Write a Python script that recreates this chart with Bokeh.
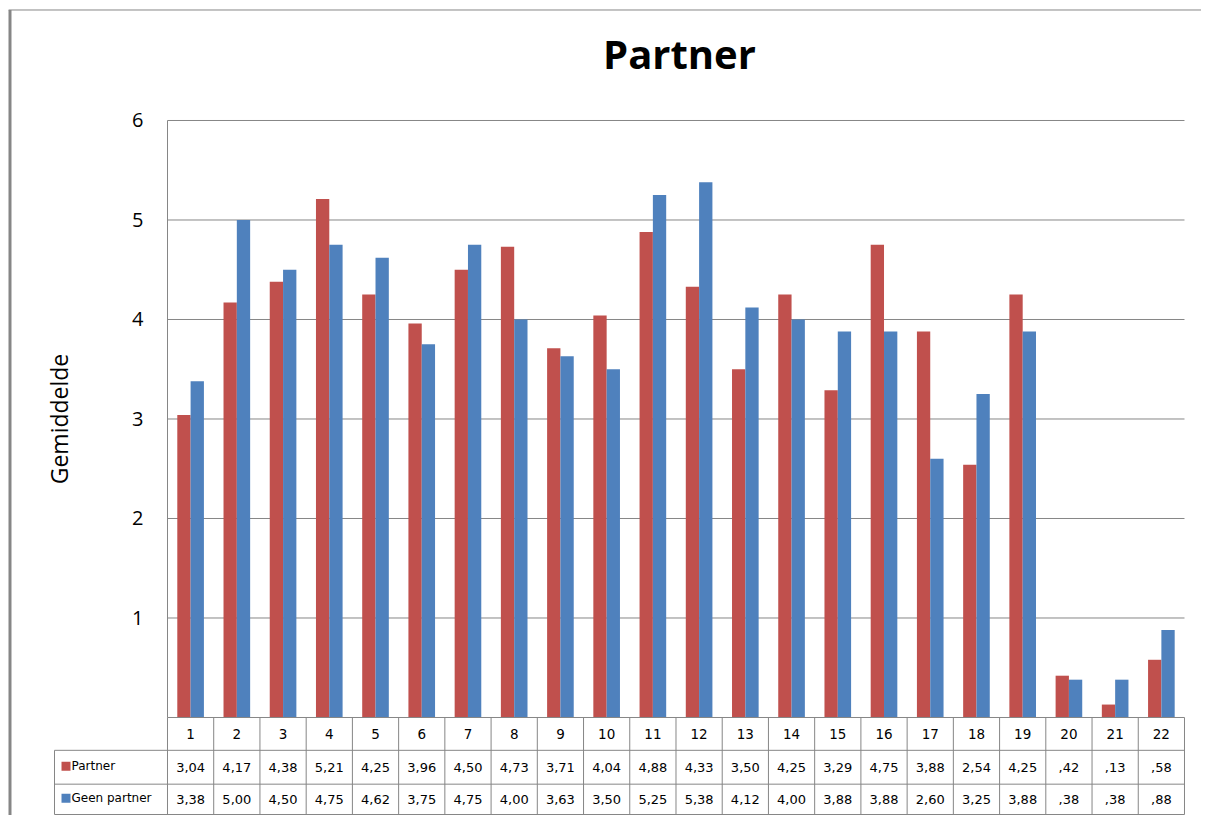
from bokeh.plotting import figure
from bokeh.models import Range1d, FixedTicker, ColumnDataSource, Label
from bokeh.transform import dodge
from bokeh.core.properties import value
from bokeh.embed import file_html
from bokeh.resources import INLINE

# ---- data ----
categories = [str(i) for i in range(1, 23)]
partner = [3.04, 4.17, 4.38, 5.21, 4.25, 3.96, 4.50, 4.73, 3.71, 4.04, 4.88,
           4.33, 3.50, 4.25, 3.29, 4.75, 3.88, 2.54, 4.25, 0.42, 0.13, 0.58]
geen_partner = [3.38, 5.00, 4.50, 4.75, 4.62, 3.75, 4.75, 4.00, 3.63, 3.50, 5.25,
                5.38, 4.12, 4.00, 3.88, 3.88, 2.60, 3.25, 3.88, 0.38, 0.38, 0.88]
series_names = ["Partner", "Geen partner"]
y_ticks = [1, 2, 3, 4, 5, 6]

RED = "#C0504D"
BLUE = "#4F81BD"
GRID = "#868686"


def nl(v):
    s = f"{v:.2f}".replace(".", ",")
    return s[1:] if s.startswith("0") else s


xpos = list(range(1, len(categories) + 1))
src = ColumnDataSource(dict(x=xpos, partner=partner, geen=geen_partner))

# one frame covering the whole canvas; plot area is x 0.5..22.5, y 0..6
X0, X1 = -3.1124, 22.868
Y0, Y1 = -0.985, 7.206
p = figure(width=1201, height=815, x_range=Range1d(X0, X1), y_range=Range1d(Y0, Y1),
           output_backend="svg", toolbar_location=None, x_axis_location=None,
           min_border_left=0, min_border_right=0, min_border_top=0, min_border_bottom=0,
           background_fill_color="white", border_fill_color="white")
p.outline_line_color = None
p.grid.grid_line_color = None

# outer chart-area border (left thick, top thin)
bx = X0 + 9.5 / 46.23
by = Y1 - 9.5 / 99.5
p.segment(x0=[bx, bx - 0.03], y0=[Y0, by], x1=[bx, X1], y1=[by, by],
          line_color=GRID, line_width=[3, 1])

# horizontal gridlines across the plot area
p.segment(x0=[0.5] * len(y_ticks), y0=y_ticks, x1=[22.5] * len(y_ticks), y1=y_ticks,
          line_color=GRID, line_width=1)

p.vbar(x=dodge("x", -0.144, range=p.x_range), top="partner", width=0.288, source=src,
       fill_color=RED, line_color=None)
p.vbar(x=dodge("x", 0.144, range=p.x_range), top="geen", width=0.288, source=src,
       fill_color=BLUE, line_color=None)

# y axis drawn at the plot-area edge
p.yaxis.fixed_location = 0.5
p.yaxis.bounds = (0, 6)
p.yaxis.ticker = FixedTicker(ticks=y_ticks)
p.yaxis.axis_line_color = GRID
p.yaxis.major_tick_line_color = None
p.yaxis.minor_tick_line_color = None
p.yaxis.major_tick_out = 0
p.yaxis.major_tick_in = 0
p.yaxis.major_label_standoff = 24
p.yaxis.major_label_text_font = "Open Sans"
p.yaxis.major_label_text_font_size = "20px"
p.yaxis.major_label_text_color = "black"
p.yaxis.axis_label = "Gemiddelde"
p.yaxis.axis_label_text_font = "Open Sans"
p.yaxis.axis_label_text_font_style = "normal"
p.yaxis.axis_label_text_font_size = "23px"
p.yaxis.axis_label_text_color = "black"
p.yaxis.axis_label_standoff = 54

# title
p.add_layout(Label(x=11.575, y=6.673, text="Partner", text_align="center",
                   text_baseline="middle", text_font="Open Sans", text_font_style="bold",
                   text_font_size="40px", text_color="black"))

# ---- data table ----
left = -1.944
rows = [0, -0.33, -0.67, -0.975]
bounds = [0.5 + k for k in range(len(categories) + 1)]
p.segment(x0=[0.5, left, left, left], y0=rows, x1=[22.5] * 4, y1=rows,
          line_color=GRID, line_width=1)
p.segment(x0=bounds, y0=[0] * len(bounds), x1=bounds, y1=[rows[-1]] * len(bounds),
          line_color=GRID, line_width=1)
p.segment(x0=[left], y0=[rows[1]], x1=[left], y1=[rows[-1]], line_color=GRID, line_width=1)

font = value("DejaVu Sans")
yc = [(rows[i] + rows[i + 1]) / 2 for i in range(3)]
p.text(x=xpos, y=[yc[0]] * len(xpos), text=categories, text_align="center",
       text_baseline="middle", text_font=font, text_font_size="13.5px", text_color="black")
p.text(x=xpos, y=[yc[1]] * len(xpos), text=[nl(v) for v in partner], text_align="center",
       text_baseline="middle", text_font=font, text_font_size="13px", text_color="black")
p.text(x=xpos, y=[yc[2]] * len(xpos), text=[nl(v) for v in geen_partner], text_align="center",
       text_baseline="middle", text_font=font, text_font_size="13px", text_color="black")

sq_x = left + 11.5 / 46.23
lab_x = left + 17.0 / 46.23
p.scatter(x=[sq_x, sq_x], y=[yc[1] + 0.01, yc[2] + 0.01], marker="square", size=9,
          fill_color=[RED, BLUE], line_color=None)
p.text(x=[lab_x, lab_x], y=[yc[1] + 0.01, yc[2] + 0.01], text=series_names, text_align="left",
       text_baseline="middle", text_font=font, text_font_size="12px", text_color="black")

open("out.html", "w").write(file_html(p, INLINE))
